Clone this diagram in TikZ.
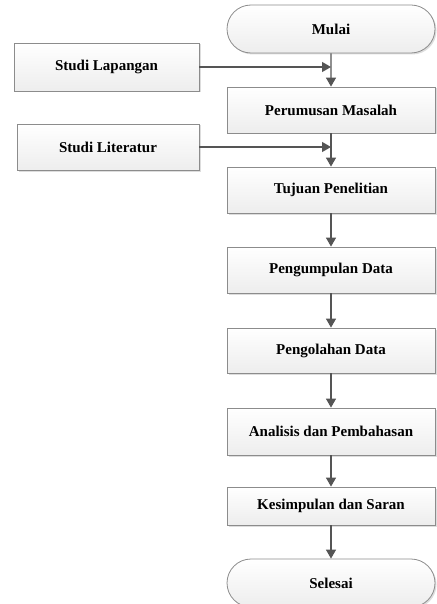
\documentclass[tikz,border=0pt]{standalone}
\usepackage{fontspec}
\setmainfont{Liberation Serif}
\usetikzlibrary{shapes.misc,shadows,arrows.meta}
\definecolor{LineGray}{RGB}{85,85,85}
\definecolor{EdgeGray}{RGB}{140,140,140}

\begin{document}
\begin{tikzpicture}[x=1pt,y=-1pt,
    box/.style={draw=EdgeGray,thick,top color=white,bottom color=gray!14,
      drop shadow={shadow xshift=1.5pt,shadow yshift=-1.5pt,fill=gray!45,opacity=.6},
      minimum width=208pt,minimum height=46pt,inner sep=0pt,
      font=\fontsize{15}{17}\selectfont\bfseries},
    ends/.style={box,rounded rectangle,minimum height=48pt},
    flow/.style={LineGray,line width=1.3pt,-{Triangle[length=9pt,width=10pt]}}]
  \useasboundingbox (0,0) rectangle (436,604);
  % main column
  \node[ends] (mulai) at (331,29) {Mulai};
  \node[box] (rumus) at (331,110) {Perumusan Masalah};
  \node[box] (tujuan) at (331,190) {Tujuan Penelitian};
  \node[box] (kumpul) at (331,270) {Pengumpulan Data};
  \node[box,minimum height=45pt] (olah) at (331,350.5) {Pengolahan Data};
  \node[box,minimum height=47pt] (analisis) at (331,431.5) {Analisis dan Pembahasan};
  \node[box,minimum height=38pt] (simpul) at (331,506) {Kesimpulan dan Saran};
  \node[ends] (selesai) at (331,583) {Selesai};
  % side inputs
  \node[box,minimum width=185pt,minimum height=48pt] (lapangan) at (106.5,67) {Studi Lapangan};
  \node[box,minimum width=182pt] (literatur) at (108,147) {Studi Literatur};
  % arrows
  \foreach \a/\b in {mulai/rumus,rumus/tujuan,tujuan/kumpul,kumpul/olah,
      olah/analisis,analisis/simpul,simpul/selesai}
    \draw[flow] (\a) -- (\b);
  \draw[flow] (lapangan) -- (lapangan -| mulai);
  \draw[flow] (literatur) -- (literatur -| mulai);
\end{tikzpicture}
\end{document}
